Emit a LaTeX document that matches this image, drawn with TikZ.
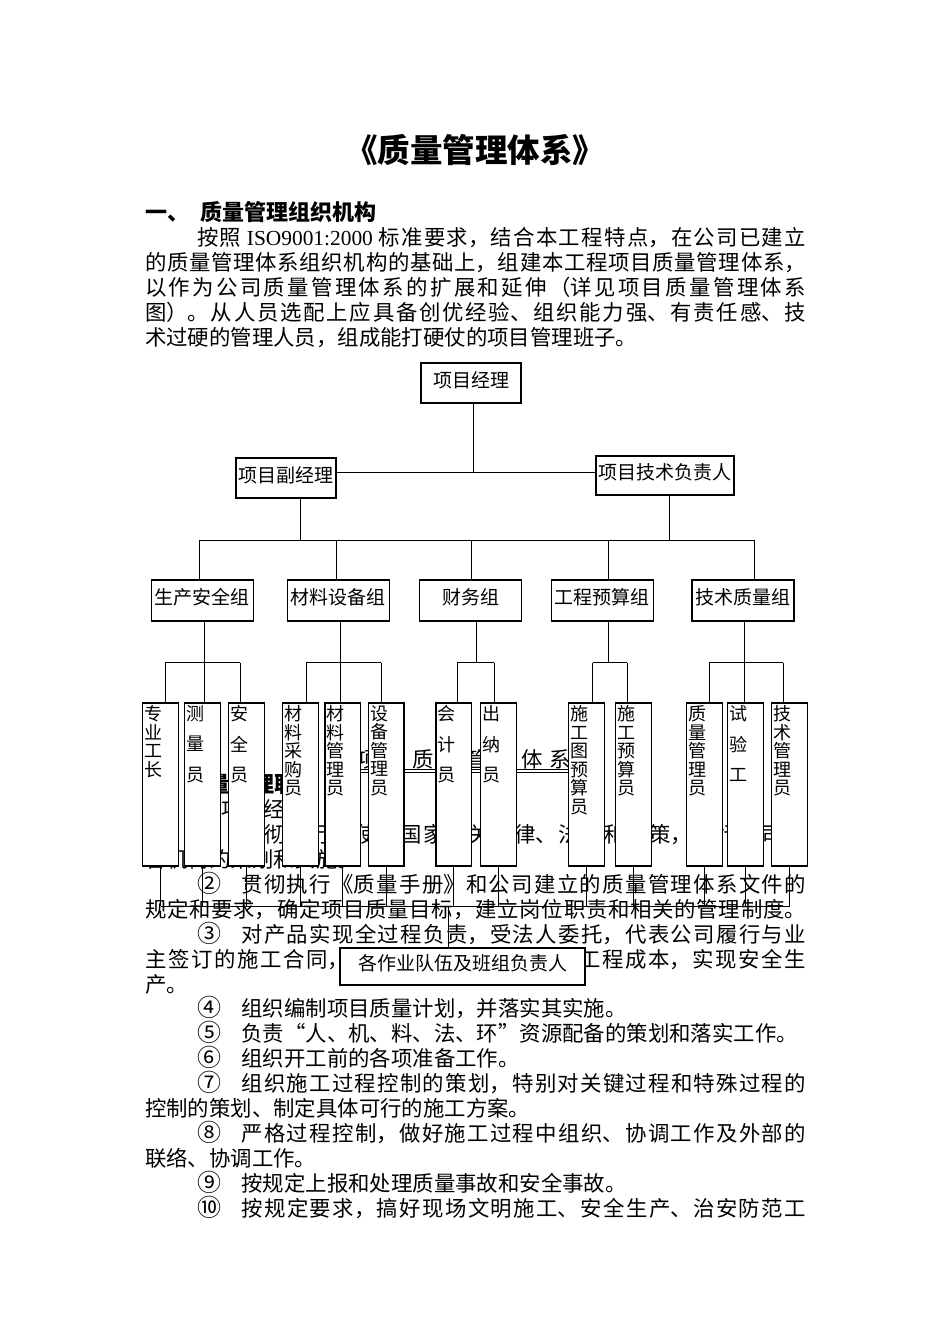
\documentclass[tikz,border=0pt]{standalone}
\usepackage{fontspec}
\setmainfont{Noto Sans CJK SC}
\newfontfamily\latinserif{Liberation Serif}
\XeTeXlinebreaklocale "zh"
\XeTeXlinebreakskip=0pt plus 3pt
\newcommand{\bodyfont}{\fontsize{21.4}{25}\selectfont}
\newcommand{\boxfont}{\fontsize{19}{22}\selectfont}
\newcommand{\leaffont}{\fontsize{18}{18.5}\selectfont}
\newcommand{\leaffontw}{\fontsize{18}{30.5}\selectfont}
\newcommand{\circnum}[1]{{\fontsize{24}{25}\selectfont #1}\hspace{20.4pt}}
\newcommand{\jline}[4]{\node[txt] (#1) at (#2,#3) {\parbox[t]{\dimexpr 806pt-#2pt\relax}{\bodyfont\parfillskip=0pt\relax #4}};}
\newcommand{\pline}[4]{\node[txt] (#1) at (#2,#3) {#4};}
\tikzset{
 txt/.style={anchor=base west, inner sep=0pt, outer sep=0pt, font=\bodyfont},
 box/.style={draw, line width=1.3pt, fill=white, inner sep=0pt, font=\boxfont, text height=16pt, text depth=7.6pt},
 leafbox/.style={draw, line width=1.3pt, fill=white, minimum width=35.5pt, minimum height=163pt, inner sep=0pt},
 leaftxt/.style={anchor=north west, inner sep=0pt, align=left, font=\leaffont},
 leaftxtw/.style={anchor=north west, inner sep=0pt, align=left, font=\leaffontw},
 conn/.style={line width=0.9pt},
}
\begin{document}
\begin{tikzpicture}[x=1pt,y=-1pt]
\fill[white] (0,0) rectangle (950,1344);
\useasboundingbox (0,0) rectangle (950,1344);

% title and heading
\node[anchor=base, inner sep=0pt, font=\fontsize{32.5}{36}\selectfont\bfseries] (title) at (475,162.5) {《质量管理体系》};
\node[txt, font=\fontsize{22}{25}\selectfont\bfseries] (h1a) at (145,220.4) {一、};
\node[txt, font=\fontsize{22}{25}\selectfont\bfseries] (h1b) at (200,220.4) {质量管理组织机构};

% first paragraph
\jline{p1}{197}{245}{按照 {\latinserif ISO9001:2000} 标准要求，结合本工程特点，在公司已建立}
\jline{p2}{145}{270}{的质量管理体系组织机构的基础上，组建本工程项目质量管理体系，}
\jline{p3}{145}{295}{以作为公司质量管理体系的扩展和延伸（详见项目质量管理体系}
\jline{p4}{145}{320}{图）。从人员选配上应具备创优经验、组织能力强、有责任感、技}
\pline{p5}{145}{345}{术过硬的管理人员，组成能打硬仗的项目管理班子。}

% text lying behind the chart
\node[txt] (hz0) at (357.3,767.3) {项\kern6pt 目\kern6pt 质\kern6pt 量\kern6pt 管\kern6pt 理\kern6pt 体\kern6pt 系};
\draw[line width=0.8pt] (hz0.base west) ++(-2,2.2) -- ++(222,0);
\draw[line width=0.8pt] (hz0.base west) ++(-2,5.2) -- ++(222,0);
\node[txt, font=\fontsize{22}{25}\selectfont\bfseries] (hz1) at (186,792.6) {质量管理职责};
\pline{hz2}{221}{817.2}{项目经理}
\jline{hz3}{197}{842.2}{\circnum{①}贯彻执行和使用国家有关法律、法规和政策，执行公司的}
\pline{hz4}{145}{867.1}{各机构的策划和实施。}

% body text below
\jline{q0}{197}{892.1}{\circnum{②}贯彻执行《质量手册》和公司建立的质量管理体系文件的}
\jline{q1}{145}{917.1}{规定和要求，确定项目质量目标，建立岗位职责和相关的管理制度。}
\jline{q2}{197}{942}{\circnum{③}对产品实现全过程负责，受法人委托，代表公司履行与业}
\jline{q3}{145}{967}{主签订的施工合同，精心组织施工，控制好工程成本，实现安全生}
\pline{q4}{145}{992}{产。}
\pline{q5}{197}{1016.9}{\circnum{④}组织编制项目质量计划，并落实其实施。}
\pline{q6}{197}{1041.8}{\circnum{⑤}负责“人、机、料、法、环”资源配备的策划和落实工作。}
\pline{q7}{197}{1066.8}{\circnum{⑥}组织开工前的各项准备工作。}
\jline{q8}{197}{1091.7}{\circnum{⑦}组织施工过程控制的策划，特别对关键过程和特殊过程的}
\pline{q9}{145}{1116.7}{控制的策划、制定具体可行的施工方案。}
\jline{q10}{197}{1141.6}{\circnum{⑧}严格过程控制，做好施工过程中组织、协调工作及外部的}
\pline{q11}{145}{1166.6}{联络、协调工作。}
\pline{q12}{197}{1191.5}{\circnum{⑨}按规定上报和处理质量事故和安全事故。}
\jline{q13}{197}{1216.5}{\circnum{⑩}按规定要求，搞好现场文明施工、安全生产、治安防范工}

% chart boxes
\node[box, minimum width=100pt, minimum height=40pt] (pm) at (471,383) {项目经理};
\node[box, minimum width=100pt, minimum height=40pt] (vpm) at (286,478) {项目副经理};
\node[box, minimum width=138pt, minimum height=39pt] (tech) at (665,475.5) {项目技术负责人};
\node[box, minimum width=102pt, minimum height=41pt] (g1) at (202.4,600.5) {生产安全组};
\node[box, minimum width=102pt, minimum height=41pt] (g2) at (338.4,600.5) {材料设备组};
\node[box, minimum width=102pt, minimum height=41pt] (g3) at (470.8,600.5) {财务组};
\node[box, minimum width=102pt, minimum height=41pt] (g4) at (602.3,600.5) {工程预算组};
\node[box, minimum width=102pt, minimum height=41pt] (g5) at (743,600.5) {技术质量组};
\node[box, minimum width=245pt, minimum height=37pt] (team) at (462.5,966.5) {各作业队伍及班组负责人};

% leaf boxes
\node[leafbox] (a1) at (160.5,784.5) {};
\node[leafbox] (a2) at (202.5,784.5) {};
\node[leafbox] (a3) at (246.5,784.5) {};
\node[leafbox] (b1) at (300.5,784.5) {};
\node[leafbox] (b2) at (342.75,784.5) {};
\node[leafbox] (b3) at (386.25,784.5) {};
\node[leafbox] (c1) at (453.75,784.5) {};
\node[leafbox] (c2) at (498.5,784.5) {};
\node[leafbox] (d1) at (586.5,784.5) {};
\node[leafbox] (d2) at (633.5,784.5) {};
\node[leafbox] (e1) at (704.5,784.5) {};
\node[leafbox] (e2) at (745.5,784.5) {};
\node[leafbox] (e3) at (789.5,784.5) {};

\node[leaftxt]  (a1t) at ([shift={(2,3)}]a1.north west) {专\\业\\工\\长};
\node[leaftxtw] (a2t) at ([shift={(2,3)}]a2.north west) {测\\量\\员};
\node[leaftxtw] (a3t) at ([shift={(2,3)}]a3.north west) {安\\全\\员};
\node[leaftxt]  (b1t) at ([shift={(2,3)}]b1.north west) {材\\料\\采\\购\\员};
\node[leaftxt]  (b2t) at ([shift={(2,3)}]b2.north west) {材\\料\\管\\理\\员};
\node[leaftxt]  (b3t) at ([shift={(2,3)}]b3.north west) {设\\备\\管\\理\\员};
\node[leaftxtw] (c1t) at ([shift={(2,3)}]c1.north west) {会\\计\\员};
\node[leaftxtw] (c2t) at ([shift={(2,3)}]c2.north west) {出\\纳\\员};
\node[leaftxt]  (d1t) at ([shift={(2,3)}]d1.north west) {施\\工\\图\\预\\算\\员};
\node[leaftxt]  (d2t) at ([shift={(2,3)}]d2.north west) {施\\工\\预\\算\\员};
\node[leaftxt]  (e1t) at ([shift={(2,3)}]e1.north west) {质\\量\\管\\理\\员};
\node[leaftxtw] (e2t) at ([shift={(2,3)}]e2.north west) {试\\验\\工};
\node[leaftxt]  (e3t) at ([shift={(2,3)}]e3.north west) {技\\术\\管\\理\\员};

% connectors: top levels
\coordinate (j0) at (473.5,472);
\draw[conn] (pm.south -| j0) -- (j0);
\draw[conn] (vpm.east |- j0) -- (tech.west |- j0);
\coordinate (h1) at (300,540);
\coordinate (h2) at (669.5,540);
\draw[conn] (vpm.south -| h1) -- (h1);
\draw[conn] (tech.south -| h2) -- (h2);
\coordinate (t1) at (199.5,540);
\coordinate (t2) at (336,540);
\coordinate (t3) at (471.5,540);
\coordinate (t4) at (608,540);
\coordinate (t5) at (754.6,540);
\draw[conn] (t1) -- (t5);
\foreach \i in {1,...,5} {\draw[conn] (t\i) -- (g\i.north -| t\i);}

% connectors: groups to leaves
\coordinate (u1) at (204,662.7);
\coordinate (u2) at (340,662.7);
\coordinate (u3) at (476,662.7);
\coordinate (u4) at (608,662.7);
\coordinate (u5) at (744,662.7);
\foreach \i in {1,...,5} {\draw[conn] (g\i.south -| u\i) -- (u\i);}
\coordinate (va1) at (165,662.7);
\coordinate (va2) at (204,662.7);
\coordinate (va3) at (240,662.7);
\coordinate (vb1) at (306,662.7);
\coordinate (vb2) at (340,662.7);
\coordinate (vb3) at (381,662.7);
\coordinate (vc1) at (457,662.7);
\coordinate (vc2) at (494,662.7);
\coordinate (vd1) at (592.7,662.7);
\coordinate (vd2) at (627,662.7);
\coordinate (ve1) at (709,662.7);
\coordinate (ve2) at (744,662.7);
\coordinate (ve3) at (783,662.7);
\draw[conn] (va1) -- (va3);
\draw[conn] (vb1) -- (vb3);
\draw[conn] (vc1) -- (vc2);
\draw[conn] (vd1) -- (vd2);
\draw[conn] (ve1) -- (ve3);
\foreach \n in {a1,a2,a3,b1,b2,b3,c1,c2,d1,d2,e1,e2,e3} {\draw[conn] (v\n) -- (\n.north -| v\n);}

% connectors: leaves to team leaders
\coordinate (bl) at (160.5,906);
\coordinate (br) at (789.5,906);
\draw[conn] (bl) -- (br);
\foreach \n in {a1,a2,a3,b1,b2,b3,c1,c2,d1,d2,e1,e2,e3} {\draw[conn] (\n.south) -- (\n.south |- bl);}
\coordinate (bj) at (448,906);
\draw[conn] (bj) -- (team.north -| bj);
\end{tikzpicture}
\end{document}
